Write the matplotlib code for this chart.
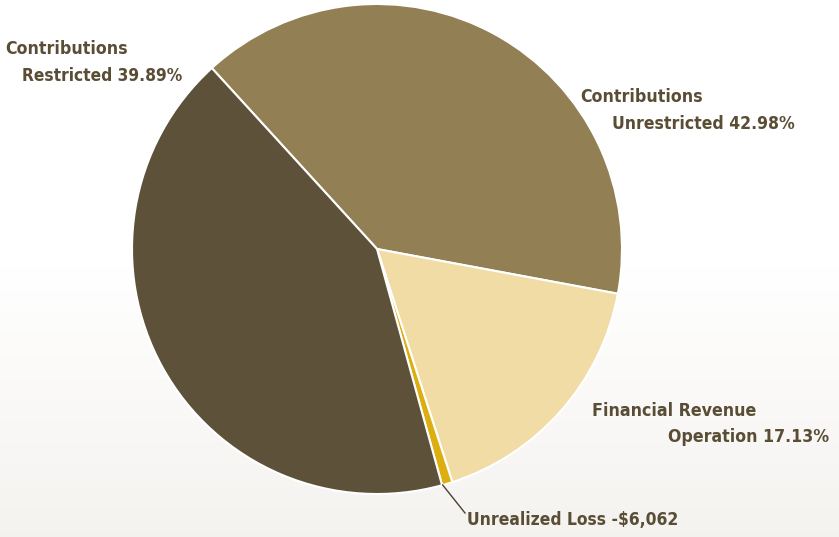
import matplotlib
matplotlib.use("Agg")
import matplotlib.pyplot as plt
import numpy as np

# Data (slice sizes, percent of circle)
slice_names = ["Contributions Unrestricted", "Financial Revenue Operation",
               "Unrealized Loss", "Contributions Restricted"]
slice_values = [39.7, 17.1, 0.7, 42.5]
slice_colors = ["#927f53", "#f0dca4", "#dcae10", "#5d5139"]

label_line1 = ["Contributions", "Financial Revenue", "Unrealized Loss -$6,062", "Contributions"]
label_line2 = ["Unrestricted 42.98%", "Operation 17.13%", "", "Restricted 39.89%"]

W, H = 839, 537
fig = plt.figure(figsize=(W / 100, H / 100), dpi=100)

# background gradient
bg = fig.add_axes([0, 0, 1, 1])
grad = np.linspace(0, 1, 256)[:, None]
top = np.array([1.0, 1.0, 1.0])
bot = np.array([0.96, 0.952, 0.94])
t = np.clip((grad - 0.5) / 0.5, 0, 1)
img = top + (bot - top) * t[..., None]
img = np.repeat(img, 4, axis=1)
bg.imshow(img, aspect="auto", extent=[0, 1, 0, 1], origin="upper")
bg.axis("off")

ax = fig.add_axes([0, 0, 1, 1])
ax.patch.set_alpha(0)

cx, cy, r = 377, H - 249, 245
ax.pie(slice_values, colors=slice_colors, startangle=132.4, counterclock=False,
       center=(cx, cy), radius=r, frame=True,
       wedgeprops=dict(edgecolor="white", linewidth=1.5))
ax.set_xlim(0, W)
ax.set_ylim(0, H)
ax.set_aspect("equal")
ax.axis("off")

tc = "#5a4d35"
fam = ["DejaVu Sans"]
renderer = fig.canvas.get_renderer()

def lab(x0, x1, y, s):
    t = ax.text(x0, H - y, s, color=tc, fontsize=14, fontweight="bold", family=fam,
                fontstretch="condensed", ha="left", va="center")
    w = t.get_window_extent(renderer=renderer).width
    t.set_fontsize(14 * (x1 - x0) / w)

# Unrestricted
lab(580, 703, 97, label_line1[0]); lab(612, 795, 124, label_line2[0])
# Financial
lab(592, 757, 411, label_line1[1]); lab(668, 830, 437, label_line2[1])
# Unrealized loss
lab(467, 680, 520, label_line1[2])
# Restricted
lab(5, 128, 49, label_line1[3]); lab(22, 183, 76, label_line2[3])

ax.plot([442.7, 465], [H - 485, H - 513], color="#4a4030", linewidth=1.0)

fig.savefig("out.png", dpi=100)
